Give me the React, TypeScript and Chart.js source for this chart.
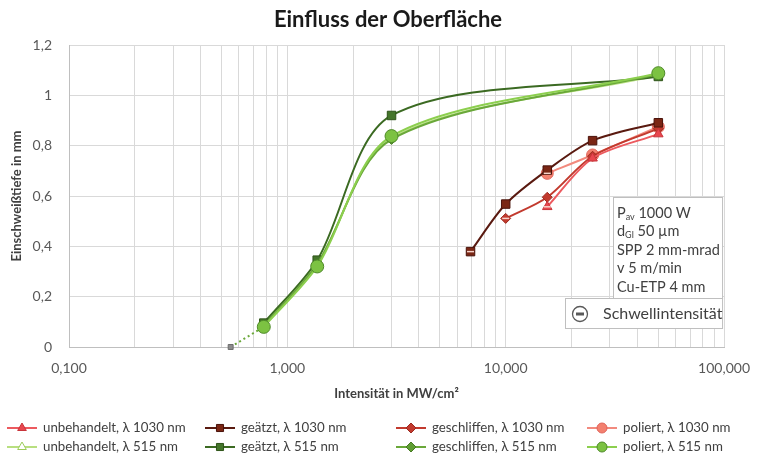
import { useEffect, useRef } from 'react';
import { Chart, registerables } from 'chart.js';
import { drawPoint } from 'chart.js/helpers';

Chart.register(...registerables);

const FONT = 'Lato, "Open Sans", "DejaVu Sans", sans-serif';
const TEXT = '#404040';

const chartTitle = 'Einfluss der Oberfläche';

// Intensität (MW/cm²) und Einschweißtiefe (mm), λ 1030 nm
const unbeh1030X = [15.5, 25, 50];
const unbeh1030Y = [0.557, 0.75, 0.846];
const geaetzt1030X = [6.9, 10, 15.5, 25, 50];
const geaetzt1030Y = [0.379, 0.568, 0.703, 0.82, 0.891];
const geschl1030X = [10, 15.5, 25, 50];
const geschl1030Y = [0.511, 0.595, 0.758, 0.868];
const poliert1030X = [15.5, 25, 50];
const poliert1030Y = [0.69, 0.763, 0.875];

// λ 515 nm
const green515X = [0.78, 1.37, 3.0, 50];
const unbeh515Y = [0.085, 0.33, 0.83, 1.08];
const geaetzt515Y = [0.095, 0.345, 0.92, 1.075];
const geschl515Y = [0.085, 0.33, 0.825, 1.085];
const poliert515Y = [0.08, 0.32, 0.838, 1.088];

// Schwellintensitäten
const thresh515X = [0.55];
const thresh515Y = [0];
const thresh1030X = [6.9, 10, 15.5, 15.5];
const thresh1030Y = [0.379, 0.511, 0.69, 0.557];

// Achsen
const xMajorTicks = [0.1, 1, 10, 100];
const xTickLabels = ['0,100', '1,000', '10,000', '100,000'];
const yTickLabels = ['0', '0,2', '0,4', '0,6', '0,8', '1', '1,2'];

const seriesLabels = [
  'unbehandelt, λ 1030 nm',
  'geätzt, λ 1030 nm',
  'geschliffen, λ 1030 nm',
  'poliert, λ 1030 nm',
  'unbehandelt, λ 515 nm',
  'geätzt, λ 515 nm',
  'geschliffen, λ 515 nm',
  'poliert, λ 515 nm',
];

// Parameterbox: [Text, Index, Rest]
const infoLines = [
  ['P', 'av', ' 1000 W'],
  ['d', 'Gl', ' 50 µm'],
  ['SPP 2 mm-mrad', '', ''],
  ['v 5 m/min', '', ''],
  ['Cu-ETP 4 mm', '', ''],
];
const thresholdLabel = 'Schwellintensität';

const pts = (xs: number[], ys: number[]) => xs.map((x, i) => ({ x, y: ys[i] }));

const titlePlugin = {
  id: 'titleText',
  afterDraw(chart: any) {
    const ctx = chart.ctx;
    ctx.save();
    ctx.fillStyle = '#1a1a1a';
    ctx.font = `bold 22px ${FONT}`;
    ctx.textAlign = 'center';
    ctx.textBaseline = 'middle';
    ctx.fillText(chartTitle, 388, 20);
    ctx.restore();
  },
};

const legendPlugin = {
  id: 'customLegend',
  afterDraw(chart: any) {
    const ctx = chart.ctx;
    const colX = [7, 205, 396, 587];
    const rowY = [428, 447];
    ctx.save();
    for (let i = 0; i < seriesLabels.length; i++) {
      const ds = chart.data.datasets[i];
      const x0 = colX[i % 4];
      const y = rowY[Math.floor(i / 4)];
      ctx.strokeStyle = ds.borderColor;
      ctx.lineWidth = 2;
      ctx.beginPath();
      ctx.moveTo(x0, y);
      ctx.lineTo(x0 + 30, y);
      ctx.stroke();
      ctx.fillStyle = ds.pointBackgroundColor;
      ctx.strokeStyle = ds.pointBorderColor;
      ctx.lineWidth = 1;
      drawPoint(ctx, { pointStyle: ds.pointStyle, radius: 5, rotation: 0, borderWidth: 1 }, x0 + 15, y);
      ctx.fillStyle = TEXT;
      ctx.font = `13.3px ${FONT}`;
      ctx.textBaseline = 'middle';
      ctx.textAlign = 'left';
      ctx.fillText(seriesLabels[i], x0 + 36, y);
    }
    ctx.restore();
  },
};

const infoPlugin = {
  id: 'infoBox',
  afterDraw(chart: any) {
    const ctx = chart.ctx;
    const right = chart.chartArea.right - 2;
    ctx.save();
    ctx.strokeStyle = '#bfbfbf';
    ctx.lineWidth = 1;
    ctx.fillStyle = '#ffffff';
    // Parameterbox
    ctx.fillRect(613.5, 197.5, right - 613, 101);
    ctx.strokeRect(613.5, 197.5, right - 613, 101);
    // Schwellintensität-Box
    ctx.fillRect(565.5, 298.5, right - 565, 30);
    ctx.strokeRect(565.5, 298.5, right - 565, 30);

    ctx.fillStyle = TEXT;
    ctx.textBaseline = 'middle';
    ctx.textAlign = 'left';
    infoLines.forEach((ln, i) => {
      const y = 213 + i * 18.5;
      let x = 617;
      ctx.font = `14.5px ${FONT}`;
      ctx.fillText(ln[0], x, y);
      x += ctx.measureText(ln[0]).width;
      if (ln[1]) {
        ctx.font = `9px ${FONT}`;
        ctx.fillText(ln[1], x, y + 4);
        x += ctx.measureText(ln[1]).width;
        ctx.font = `14.5px ${FONT}`;
      }
      ctx.fillText(ln[2], x, y);
    });

    // Symbol ⊖
    ctx.strokeStyle = '#595959';
    ctx.lineWidth = 1.3;
    ctx.beginPath();
    ctx.arc(580, 314, 7.5, 0, Math.PI * 2);
    ctx.stroke();
    ctx.fillStyle = '#595959';
    ctx.fillRect(576, 312.5, 8, 3);

    ctx.fillStyle = TEXT;
    ctx.font = `16px ${FONT}`;
    ctx.fillText(thresholdLabel, 603, 314);
    ctx.restore();
  },
};

export default function App() {
  const ref = useRef<HTMLCanvasElement>(null);

  useEffect(() => {
    if (!ref.current) return;

    const gridValues: number[] = [];
    for (const d of [0.1, 1, 10]) {
      for (let m = 1; m <= 9; m++) gridValues.push(m * d);
    }
    gridValues.push(100);

    const series = (label: string, xs: number[], ys: number[], line: string, fill: string, border: string, style: string, r: number, order = 1) => ({
      label,
      data: pts(xs, ys),
      borderColor: line,
      backgroundColor: fill,
      pointBackgroundColor: fill,
      pointBorderColor: border,
      pointBorderWidth: 1,
      pointStyle: style,
      pointRadius: r,
      borderWidth: 2,
      tension: 0.3,
      order,
    });

    const chart = new Chart(ref.current, {
      type: 'line',
      data: {
        datasets: [
          series(seriesLabels[0], unbeh1030X, unbeh1030Y, '#ec5a5f', '#e8474f', '#c8343a', 'triangle', 5.5),
          series(seriesLabels[1], geaetzt1030X, geaetzt1030Y, '#5a1a10', '#7a2614', '#4a130b', 'rect', 6),
          series(seriesLabels[2], geschl1030X, geschl1030Y, '#c23a2e', '#c23a2e', '#9c2a20', 'rectRot', 5),
          series(seriesLabels[3], poliert1030X, poliert1030Y, '#f28a7e', '#f3806f', '#e0645a', 'circle', 6),
          series(seriesLabels[4], green515X, unbeh515Y, '#b8df80', '#ffffff', '#9ccc5a', 'triangle', 5, 4),
          series(seriesLabels[5], green515X, geaetzt515Y, '#3b6a22', '#44752a', '#2f5419', 'rect', 6, 3),
          series(seriesLabels[6], green515X, geschl515Y, '#6aa83a', '#5f9d33', '#467a22', 'rectRot', 5, 2),
          series(seriesLabels[7], green515X, poliert515Y, '#8ccf4e', '#7cc242', '#4f8a2a', 'circle', 6.5, 0),
          {
            label: 'Schwelle 515',
            data: [
              { x: thresh515X[0], y: thresh515Y[0] },
              { x: green515X[0], y: poliert515Y[0] },
            ],
            borderColor: '#6aa83a',
            borderWidth: 2,
            borderDash: [2, 3],
            pointRadius: 0,
            tension: 0,
            order: 5,
          },
          {
            label: 'Schwellpunkt 515',
            data: pts(thresh515X, thresh515Y),
            showLine: false,
            pointStyle: 'rect',
            pointRadius: 3.5,
            pointBackgroundColor: '#8c8c8c',
            pointBorderColor: '#6b6b6b',
            pointBorderWidth: 1,
            clip: false,
            order: -1,
          },
          {
            label: 'Schwellpunkte 1030',
            data: pts(thresh1030X, thresh1030Y),
            showLine: false,
            pointStyle: 'line',
            pointRadius: 3.5,
            pointBorderColor: '#f6d3cb',
            pointBorderWidth: 1.5,
            order: -1,
          },
        ],
      } as any,
      options: {
        animation: false,
        responsive: false,
        maintainAspectRatio: false,
        events: [],
        layout: { padding: { left: 0, right: 26, top: 45, bottom: 52 } },
        plugins: {
          legend: { display: false },
          tooltip: { enabled: false },
          title: { display: false },
        },
        scales: {
          x: {
            type: 'logarithmic',
            min: 0.1,
            max: 100,
            afterBuildTicks: (s: any) => {
              s.ticks = gridValues.map((v) => ({ value: v }));
            },
            afterFit: (s: any) => {
              s.height = 58;
            },
            ticks: {
              autoSkip: false,
              maxRotation: 0,
              padding: 13,
              color: '#595959',
              font: { family: FONT, size: 14 },
              callback: (v: any) => {
                const i = xMajorTicks.findIndex((t) => Math.abs(t - v) < 1e-9);
                return i >= 0 ? xTickLabels[i] : '';
              },
            },
            grid: { color: '#d9d9d9', drawTicks: false },
            border: { color: '#bfbfbf' },
            title: {
              display: true,
              text: 'Intensität in MW/cm²',
              color: TEXT,
              font: { family: FONT, size: 13, weight: 'bold' },
              padding: { top: 4, bottom: 3 },
            },
          },
          y: {
            min: 0,
            max: 1.2,
            afterFit: (s: any) => {
              s.width = 69;
            },
            ticks: {
              stepSize: 0.2,
              padding: 17,
              color: '#595959',
              font: { family: FONT, size: 14 },
              callback: (_v: any, i: number) => yTickLabels[i],
            },
            grid: { color: '#d9d9d9', drawTicks: false },
            border: { color: '#bfbfbf' },
            title: {
              display: true,
              text: 'Einschweißtiefe in mm',
              color: TEXT,
              font: { family: FONT, size: 13, weight: 'bold' },
              padding: { top: 9.5, bottom: 0 },
            },
          },
        },
      } as any,
      plugins: [titlePlugin, infoPlugin, legendPlugin],
    });

    return () => chart.destroy();
  }, []);

  return (
    <div style={{ position: 'absolute', left: 0, top: 0, width: 763, height: 457, background: '#fff' }}>
      <canvas ref={ref} width={763} height={457} />
    </div>
  );
}
